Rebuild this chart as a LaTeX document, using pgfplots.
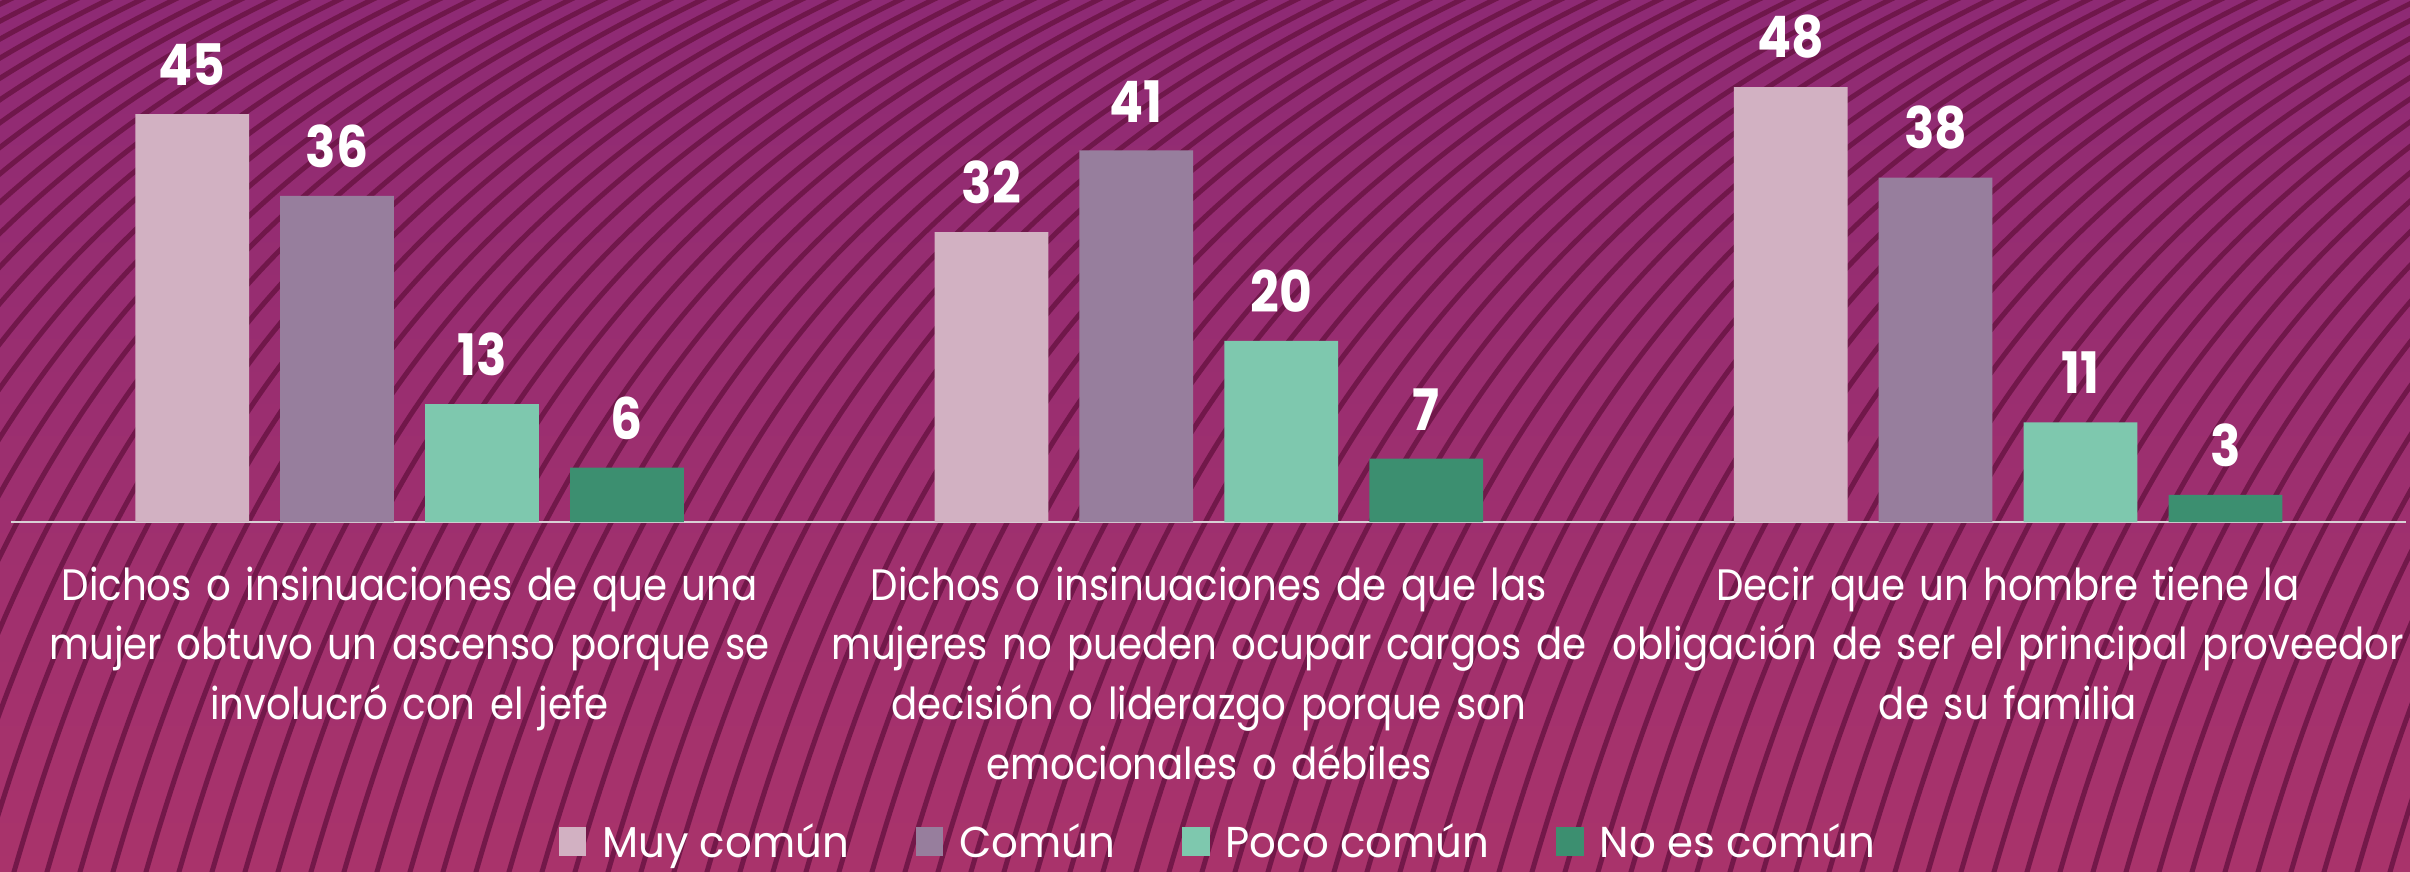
\documentclass[border=0pt]{standalone}
\usepackage{pgfplots}
\pgfplotsset{compat=1.18}
\usepackage{pgfplotstable}
\usepackage{fontspec}
\setmainfont{Poppins}
\newfontfamily\labfont{Poppins}[FakeStretch=0.88]
\newfontfamily\numfont{Poppins}[FakeStretch=0.88]
\newfontfamily\legfont{Poppins}[FakeStretch=0.97]

\definecolor{bgtop}{HTML}{8E2A74}
\definecolor{bgbot}{HTML}{A9336B}
\definecolor{wave}{HTML}{6A1444}
\definecolor{c1}{HTML}{D2B1C2}
\definecolor{c2}{HTML}{977E9D}
\definecolor{c3}{HTML}{7EC8AE}
\definecolor{c4}{HTML}{3C8F70}
\definecolor{axl}{HTML}{D9D0D6}

\pgfplotstableread{
x y
0 45
1 32
2 48
}\muycomun
\pgfplotstableread{
x y
0 36
1 41
2 38
}\comun
\pgfplotstableread{
x y
0 13
1 20
2 11
}\pococomun
\pgfplotstableread{
x y
0 6
1 7
2 3
}\noescomun

\pgfplotsset{sqlegend/.style={legend image code/.code={\fill[##1,draw=none] (0pt,-3.2pt) rectangle (6.8pt,4.1pt);}}}

\begin{document}
\begin{tikzpicture}
\useasboundingbox (0,-87.25pt) rectangle (602.5pt,130.5pt);
\fill[top color=bgtop, bottom color=bgbot] (0,-87.25pt) rectangle (602.5pt,130.5pt);
\begin{scope}[x=1pt,y=1pt]
\clip (0,-87.25) rectangle (602.5,130.5);
\foreach \s in {-180,-171.75,...,610} {
  \draw[wave, line width=1.25pt, opacity=0.85] (\s,-94.5) .. controls ({\s+28},5.5) and ({\s+70},85) .. ({\s+190},138);
}
\end{scope}
\begin{axis}[
  at={(0,0)}, anchor=south west,
  width=602.5pt, height=130.5pt, scale only axis,
  xmin=-0.5125, xmax=2.503, ymin=0, ymax=57.6,
  ybar, bar width=0.1423,
  axis x line*=bottom, axis y line=none,
  x axis line style={draw=axl, line width=0.5pt, -, shorten <=2.75pt, shorten >=1pt},
  xtick={0,1,2},
  xticklabels={{Dichos o insinuaciones de que una\\mujer obtuvo un ascenso porque se\\involucró con el jefe},
                {Dichos o insinuaciones de que las\\mujeres no pueden ocupar cargos de\\decisión o liderazgo porque son\\emocionales o débiles},
                {Decir que un hombre tiene la\\obligación de ser el principal proveedor\\de su familia}},
  major tick length=0pt,
  xticklabel style={text=white, font=\labfont\fontsize{11}{14.9}\selectfont, text width=205pt, align=center, anchor=north, inner sep=0pt, yshift=-11pt},
  /pgf/number format/assume math mode=true,
  nodes near coords,
  every node near coord/.append style={text=white, font=\numfont\bfseries\fontsize{14.3}{16}\selectfont, anchor=south, inner sep=0pt, yshift=6.9pt},
  legend columns=4,
  legend style={at={(0.505,-0.616)}, anchor=center, draw=none, fill=none, text=white, inner sep=0pt,
    nodes={inner sep=0pt},
    font=\legfont\fontsize{10.8}{13}\selectfont,
    /tikz/every odd column/.append style={column sep=4pt},
    /tikz/every even column/.append style={column sep=16.8pt}},
  clip=false,
]
\addplot[bar shift=-0.272, fill=c1, draw=none, sqlegend] table {\muycomun};
\addlegendentry{Muy común}
\addplot[bar shift=-0.0907, fill=c2, draw=none, sqlegend] table {\comun};
\addlegendentry{Común}
\addplot[bar shift=0.0907, fill=c3, draw=none, sqlegend] table {\pococomun};
\addlegendentry{Poco común}
\addplot[bar shift=0.272, fill=c4, draw=none, sqlegend] table {\noescomun};
\addlegendentry{No es común}
\end{axis}
\end{tikzpicture}
\end{document}
